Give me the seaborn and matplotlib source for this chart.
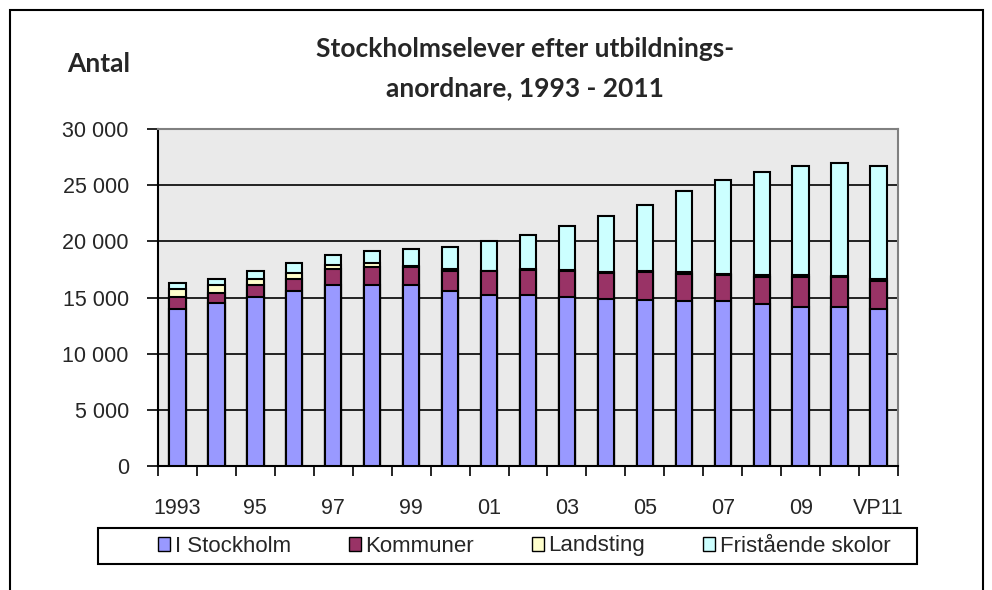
import numpy as np
import pandas as pd
import seaborn as sns
import matplotlib.pyplot as plt
from matplotlib.patches import Patch, Rectangle

# Values
years = ["1993", "1994", "1995", "1996", "1997", "1998", "1999", "2000", "2001", "2002",
         "2003", "2004", "2005", "2006", "2007", "2008", "2009", "2010", "VP11"]
tick_labels = ["1993", "95", "97", "99", "01", "03", "05", "07", "09", "VP11"]

stockholm = [14000, 14530, 15030, 15600, 16130, 16090, 16090, 15620, 15200, 15200,
             15030, 14880, 14820, 14710, 14710, 14380, 14170, 14170, 14000]
kommuner = [1060, 890, 1100, 1060, 1440, 1600, 1600, 1780, 2130, 2220,
            2370, 2310, 2460, 2420, 2270, 2460, 2670, 2670, 2510]
landsting = [710, 710, 530, 500, 300, 350, 150, 120, 60, 120,
             60, 120, 60, 120, 130, 120, 120, 60, 150]
fristaende = [530, 530, 740, 950, 950, 1070, 1480, 1980, 2670, 3050,
              3900, 4910, 5910, 7190, 8390, 9250, 9780, 10060, 10080]

series = ["I Stockholm", "Kommuner", "Landsting", "Fristående skolor"]
colors = ["#9999FF", "#993366", "#FFFFCC", "#CCFFFF"]

df = pd.DataFrame({"year": years, "I Stockholm": stockholm, "Kommuner": kommuner,
                   "Landsting": landsting, "Fristående skolor": fristaende})
cum = df[series].cumsum(axis=1)

sns.set_style("ticks")
plt.rcParams["font.family"] = ["Liberation Sans", "DejaVu Sans"]

fig = plt.figure(figsize=(9.92, 5.90), dpi=100)
ax = fig.add_axes([158 / 992, 1 - 466 / 590, 740 / 992, 337 / 590])
ax.set_facecolor("#EAEAEA")

# stacked bars: draw cumulative totals from the top down
for s, c in reversed(list(zip(series, colors))):
    sns.barplot(x=df["year"], y=cum[s], color=c, width=0.42, edgecolor="black",
                linewidth=1.5, saturation=1, ax=ax, zorder=3)

ax.set_ylim(0, 30000)
ax.set_xlim(-0.5, len(years) - 0.5)
ax.set_yticks(np.arange(0, 30001, 5000))
ax.set_yticklabels([f"{v:,}".replace(",", " ") for v in range(0, 30001, 5000)])
ax.yaxis.grid(True, color="black", linewidth=1.2)
ax.set_axisbelow(True)

ax.set_xticks(range(0, len(years), 2))
ax.set_xticklabels(tick_labels)
ax.set_xticks(np.arange(-0.5, len(years)), minor=True)
ax.tick_params(axis="x", which="major", length=0, pad=23, labelsize=15.5)
ax.tick_params(axis="x", which="minor", length=7, width=1.2, color="black", direction="out")
ax.tick_params(axis="y", length=8, width=1.2, color="black", pad=13, labelsize=15.5)
ax.set_xlabel("")
ax.set_ylabel("")

for side in ["left", "bottom"]:
    ax.spines[side].set_color("black")
    ax.spines[side].set_linewidth(1.5)
for side in ["top", "right"]:
    ax.spines[side].set_visible(True)
    ax.spines[side].set_color("#808080")
    ax.spines[side].set_linewidth(1.5)

title_font = dict(fontsize=19, fontweight="bold", family=["Lato", "DejaVu Sans"])
fig.text(525 / 992, 1 - 57 / 590, "Stockholmselever efter utbildnings-",
         ha="center", va="baseline", **title_font)
fig.text(525 / 992, 1 - 96 / 590, "anordnare, 1993 - 2011",
         ha="center", va="baseline", **title_font)
fig.text(99 / 992, 1 - 72 / 590, "Antal", ha="center", va="baseline", **title_font)

# legend box and entries
fig.patches.append(Rectangle((98 / 992, 1 - 564 / 590), 819 / 992, 36 / 590,
                             transform=fig.transFigure, facecolor="white",
                             edgecolor="black", linewidth=1.5))
handles = [Patch(facecolor=c, edgecolor="black", linewidth=1) for c in colors]
leg = fig.legend(handles, series, ncol=4, loc="center left",
                 bbox_to_anchor=(158 / 992, 1 - 546 / 590),
                 fontsize=16, handlelength=0.55, handleheight=0.6, handletextpad=0.2,
                 columnspacing=2.6, frameon=False, borderaxespad=0, borderpad=0)

# outer chart border
fig.patches.append(Rectangle((10 / 992, -0.1), 973 / 992, 1.1 - 10 / 590, transform=fig.transFigure,
                             fill=False, edgecolor="black", linewidth=1.5))

fig.savefig("out.png", dpi=100)
